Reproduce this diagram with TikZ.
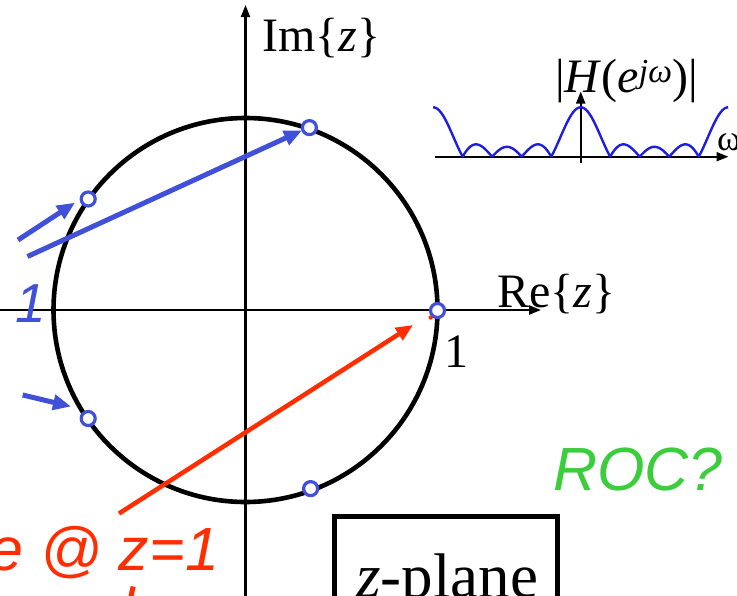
\documentclass[tikz,border=0pt]{standalone}
\usepackage{fontspec}
\setmainfont{Liberation Serif}
\setsansfont{Liberation Sans}
\usetikzlibrary{arrows.meta}
\definecolor{zblue}{RGB}{64,80,216}
\definecolor{hblue}{RGB}{30,30,225}
\definecolor{zred}{RGB}{255,45,0}
\definecolor{rocgreen}{RGB}{60,205,60}
\begin{document}
\begin{tikzpicture}[x=1pt,y=-1pt,
  axisline/.style={line width=2.2pt, -{Triangle[length=12pt,width=9pt]}},
  smallaxis/.style={line width=2pt, -{Triangle[length=12pt,width=9pt]}},
  unitcirc/.style={line width=4.6pt},
  zeromark/.style={circle, draw=zblue, fill=white, line width=3.2pt, minimum size=14pt, inner sep=0pt},
  bluearrow/.style={zblue, line width=5pt, -{Triangle[length=18pt,width=15pt]}},
  redarrow/.style={zred, line width=4.5pt, -{Triangle[length=17pt,width=14pt]}},
  seriflabel/.style={font=\fontsize{48}{56}\selectfont, inner sep=0pt, anchor=base west},
  hcurve/.style={hblue, line width=2.4pt, line join=round},
  sanstext/.style={font=\sffamily\itshape\fontsize{61}{70}\selectfont, inner sep=0pt, anchor=base west}
]
\useasboundingbox (0,0) rectangle (737,595);

% unit circle
\coordinate (O) at (245.5,310);
\draw[unitcirc] (O) circle[radius=192];

% main axes
\coordinate (vbot) at (245.5,600);
\coordinate (vtop) at (245.5,5);
\coordinate (hleft) at (-5,310);
\coordinate (hright) at (541,310);
\draw[axisline] (vbot) -- (vtop);
\draw[axisline] (hleft) -- (hright);

% labels
\node[seriflabel] (imlab) at (262,51) {Im\{\textit{z}\}};
\node[seriflabel] (relab) at (497,307) {Re\{\textit{z}\}};
\node[seriflabel] (one) at (444,367) {1};

% zero positions
\coordinate (z0) at (437.5,310.5);
\coordinate (z1) at (309.4,127.6);
\coordinate (z2) at (88.2,199);
\coordinate (z3) at (88.2,418.5);
\coordinate (z4) at (310.6,488.6);

% blue arrows
\coordinate (a1s) at (27.5,256.5);
\coordinate (a1e) at (302,130.5);
\coordinate (a2s) at (18,240);
\coordinate (a2e) at (75,202.7);
\coordinate (a3s) at (22.7,395);
\coordinate (a3e) at (71,406.5);
\draw[bluearrow] (a1s) -- (a1e);
\draw[bluearrow] (a2s) -- (a2e);
\draw[bluearrow] (a3s) -- (a3e);

% red arrow
\coordinate (rs) at (119,513.5);
\coordinate (re) at (413,325);
\draw[redarrow] (rs) -- (re);

% zero markers
\node[zeromark] (m0) at (z0) {};
\node[zeromark] (m1) at (z1) {};
\node[zeromark] (m2) at (z2) {};
\node[zeromark] (m3) at (z3) {};
\node[zeromark] (m4) at (z4) {};
\fill[zred] (430.7,317.5) circle[radius=2.2];

% texts in colour
\node[sanstext, zblue, font=\sffamily\itshape\fontsize{55}{66}\selectfont] (bone) at (15,322) {1};
\node[sanstext, zred] (poletext) at (-11,570) {e @ z=1};
\draw[zred, line width=5pt] (130.8,597) -- (133.2,586.5);
\node[sanstext, rocgreen] (roc) at (553,490) {ROC?};

% z-plane box
\draw[line width=5pt] (334,600) -- (334,516.5) -- (557.5,516.5) -- (557.5,600);
\node[inner sep=0pt, anchor=base west, font=\fontsize{63}{75}\selectfont] (zplane) at (356,597) {\textit{z}-plane};

% small frequency response plot
\coordinate (pleft) at (435,156.7);
\coordinate (pright) at (728.5,156.7);
\coordinate (pbot) at (580.7,163);
\coordinate (ptop) at (580.7,91.5);
\draw[smallaxis] (pleft) -- (pright);
\draw[smallaxis] (pbot) -- (ptop);
\draw[hcurve] plot[domain=-147.5:147.5, samples=295, smooth]
  ({580.7+\x},{156.7-9.88*abs(1+2*cos(2.440678*\x)+2*cos(4.881356*\x))});
\node[inner sep=0pt, anchor=base west, font=\fontsize{48}{56}\selectfont] (hlab) at (555,92)
  {|\textit{H}(\textit{e}\textsuperscript{\textit{jω}})|};
\node[inner sep=0pt, anchor=base west, font=\fontsize{36}{42}\selectfont] (omega) at (717,150) {ω};
\end{tikzpicture}
\end{document}
